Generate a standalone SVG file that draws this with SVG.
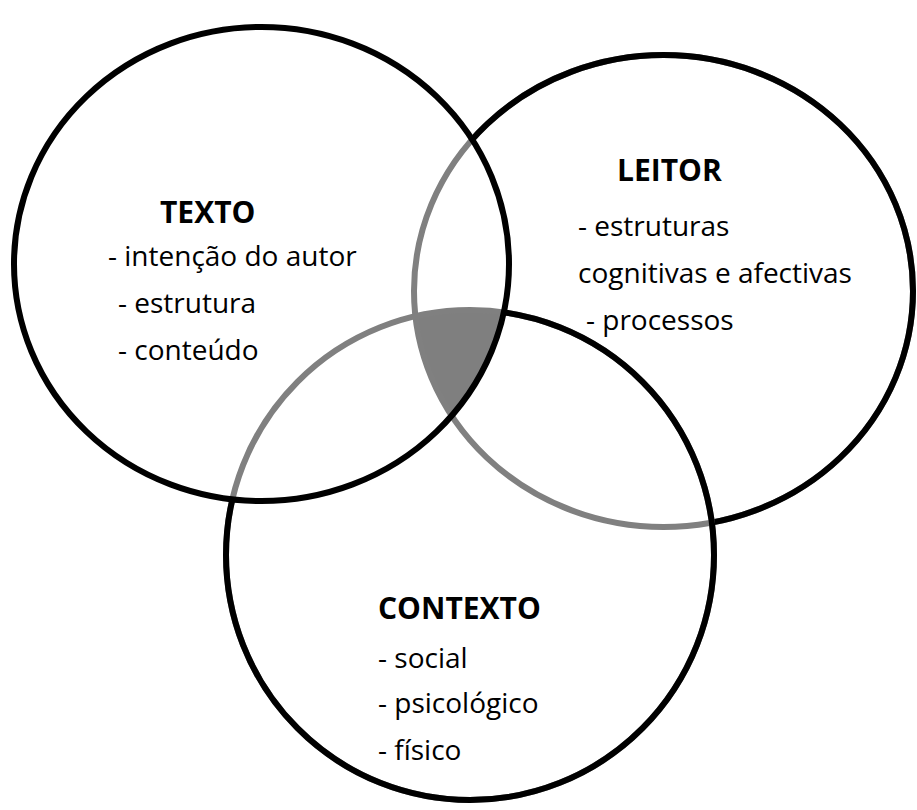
<svg xmlns="http://www.w3.org/2000/svg" width="917" height="810" viewBox="0 0 917 810">
  <style>
    .ring { fill: none; stroke-width: 6; }
    .blk { stroke: #000000; }
    .gry { stroke: #808080; }
    .title { font-family: "Open Sans", "Liberation Sans", sans-serif; font-weight: bold; font-size: 30px; fill: #000000; }
    .item { font-family: "Open Sans", "Liberation Sans", sans-serif; font-size: 28px; fill: #000000; }
  </style>
  <defs>
    <clipPath id="cT"><ellipse cx="261.5" cy="264" rx="247.5" ry="237"/></clipPath>
    <clipPath id="cL"><ellipse cx="663.5" cy="291" rx="249.5" ry="236"/></clipPath>
    <clipPath id="cC"><ellipse cx="470" cy="555" rx="244" ry="245"/></clipPath>
    <mask id="outTC" maskUnits="userSpaceOnUse" x="0" y="0" width="917" height="810">
      <rect x="0" y="0" width="917" height="810" fill="#ffffff"/>
      <ellipse cx="261.5" cy="264" rx="247.5" ry="237" fill="#000000"/>
      <ellipse cx="470" cy="555" rx="244" ry="245" fill="#000000"/>
    </mask>
    <mask id="outT" maskUnits="userSpaceOnUse" x="0" y="0" width="917" height="810">
      <rect x="0" y="0" width="917" height="810" fill="#ffffff"/>
      <ellipse cx="261.5" cy="264" rx="247.5" ry="237" fill="#000000"/>
    </mask>
  </defs>
  <rect x="0" y="0" width="917" height="810" fill="#ffffff"/>

  <g id="intersection">
    <g clip-path="url(#cL)">
      <g clip-path="url(#cC)">
        <ellipse cx="261.5" cy="264" rx="247.5" ry="237" fill="#7f7f7f"/>
      </g>
    </g>
  </g>

  <g id="leitor">
    <ellipse class="ring gry" cx="663.5" cy="291" rx="249.5" ry="236"/>
    <ellipse class="ring blk" cx="663.5" cy="291" rx="249.5" ry="236" mask="url(#outTC)"/>
    <text class="title" x="617" y="181">LEITOR</text>
    <text class="item" x="578" y="236">- estruturas</text>
    <text class="item" x="578" y="283">cognitivas e afectivas</text>
    <text class="item" x="586" y="330">- processos</text>
  </g>

  <g id="contexto">
    <ellipse class="ring gry" cx="470" cy="555" rx="244" ry="245"/>
    <ellipse class="ring blk" cx="470" cy="555" rx="244" ry="245" mask="url(#outT)"/>
    <text class="title" x="378" y="619">CONTEXTO</text>
    <text class="item" x="378" y="668">- social</text>
    <text class="item" x="378" y="713">- psicológico</text>
    <text class="item" x="378" y="760">- físico</text>
  </g>

  <g id="texto">
    <ellipse class="ring blk" cx="261.5" cy="264" rx="247.5" ry="237"/>
    <text class="title" x="160" y="223">TEXTO</text>
    <text class="item" x="108" y="266">- intenção do autor</text>
    <text class="item" x="118" y="313">- estrutura</text>
    <text class="item" x="118" y="360">- conteúdo</text>
  </g>

  <g id="connectors"/>
</svg>
